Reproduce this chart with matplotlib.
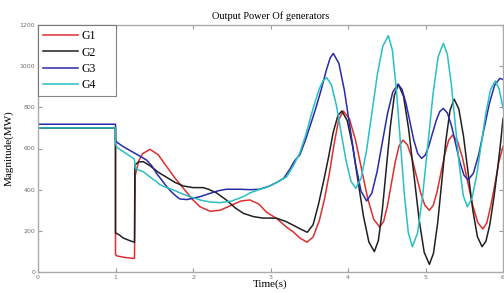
import matplotlib
matplotlib.use("Agg")
import matplotlib.pyplot as plt

# ---------------- data ----------------
t_g1 = [0.0, 1.0, 1.0, 1.02, 1.1, 1.2, 1.245, 1.255, 1.3, 1.35, 1.445, 1.55, 1.66, 1.77, 1.875,
        2.0, 2.09, 2.22, 2.35, 2.5, 2.62, 2.735, 2.85, 2.95, 3.08, 3.2, 3.29, 3.38, 3.47,
        3.55, 3.63, 3.70, 3.76, 3.82, 3.88, 3.94, 4.018, 4.097, 4.175, 4.253, 4.332, 4.41,
        4.46, 4.51, 4.56, 4.61, 4.66, 4.71, 4.767, 4.823, 4.88, 4.937, 4.993, 5.05,
        5.10, 5.15, 5.20, 5.25, 5.30, 5.35, 5.415, 5.48, 5.545, 5.61, 5.675, 5.74,
        5.79, 5.84, 5.895, 5.945, 6.0]
p_g1 = [700, 700, 85, 78, 72, 67, 66, 470, 540, 575, 596, 570, 512, 455, 407,
        350, 317, 295, 300, 325, 345, 350, 330, 290, 260, 220, 196, 165, 145,
        170, 250, 360, 480, 620, 740, 782, 744, 641, 500, 359, 256, 218,
        246, 324, 430, 535, 613, 641, 618, 556, 471, 385, 323, 300,
        324, 391, 483, 574, 641, 665, 634, 551, 437, 323, 240, 209,
        238, 317, 425, 532, 610]

t_g2 = [0.0, 1.0, 1.0, 1.05, 1.1, 1.2, 1.245, 1.25, 1.3, 1.36, 1.45, 1.55, 1.66, 1.77, 1.875,
        2.0, 2.13, 2.2, 2.3, 2.43, 2.55, 2.65, 2.78, 2.9, 3.0, 3.08, 3.2, 3.29, 3.38, 3.475,
        3.55, 3.62, 3.69, 3.75, 3.81, 3.87, 3.92, 3.99, 4.06, 4.13, 4.20, 4.27, 4.34,
        4.392, 4.443, 4.495, 4.547, 4.598, 4.65, 4.717, 4.783, 4.85, 4.917, 4.983, 5.05,
        5.103, 5.157, 5.21, 5.263, 5.317, 5.37, 5.43, 5.49, 5.55, 5.61, 5.67, 5.73,
        5.78, 5.83, 5.88, 5.93, 5.97, 6.0]
p_g2 = [700, 700, 190, 180, 165, 150, 145, 520, 535, 536, 515, 485, 460, 435, 418,
        410, 410, 402, 385, 350, 310, 285, 269, 262, 262, 261, 245, 228, 210, 193,
        230, 330, 450, 560, 680, 760, 782, 736, 611, 441, 270, 145, 99,
        153, 302, 506, 709, 858, 912, 853, 693, 475, 256, 96, 37,
        91, 238, 439, 639, 786, 840, 792, 661, 482, 302, 171, 123,
        150, 230, 355, 500, 630, 745]

t_g3 = [0.0, 1.0, 1.0, 1.02, 1.1, 1.25, 1.4, 1.47, 1.53, 1.6, 1.66, 1.72, 1.79, 1.83, 1.92,
        2.0, 2.09, 2.22, 2.33, 2.43, 2.6, 2.74, 2.86, 2.99, 3.08, 3.17, 3.25, 3.31, 3.38,
        3.45, 3.52, 3.58, 3.65, 3.72, 3.77, 3.81, 3.882, 3.953, 4.025, 4.097, 4.168, 4.24,
        4.3075, 4.375, 4.4425, 4.51, 4.5775, 4.645, 4.696, 4.747, 4.798, 4.848, 4.899, 4.95,
        4.997, 5.043, 5.09, 5.137, 5.183, 5.23, 5.283, 5.337, 5.39, 5.443, 5.497, 5.55,
        5.618, 5.687, 5.755, 5.823, 5.892, 5.96, 6.0]
p_g3 = [718, 718, 640, 630, 609, 577, 544, 515, 479, 445, 415, 390, 366, 355, 352,
        358, 366, 382, 395, 402, 402, 400, 402, 418, 435, 455, 500, 540, 570,
        640, 720, 790, 880, 980, 1040, 1062, 1014, 883, 704, 524, 393, 345,
        383, 487, 629, 770, 874, 912, 888, 822, 732, 642, 576, 552,
        568, 613, 674, 734, 779, 795, 772, 708, 621, 534, 470, 447,
        480, 571, 694, 817, 908, 941, 935]

t_g4 = [0.0, 1.0, 1.0, 1.02, 1.1, 1.23, 1.245, 1.255, 1.3, 1.36, 1.45, 1.53, 1.57, 1.66, 1.75,
        1.86, 1.96, 2.09, 2.22, 2.35, 2.5, 2.65, 2.74, 2.85, 2.95, 3.08, 3.21, 3.3, 3.38,
        3.45, 3.55, 3.63, 3.68, 3.725, 3.7875, 3.85, 3.9125, 3.975, 4.0375, 4.10,
        4.17, 4.24, 4.31, 4.38, 4.45, 4.52, 4.572, 4.623, 4.675, 4.727, 4.778, 4.83,
        4.897, 4.963, 5.03, 5.097, 5.163, 5.23, 5.282, 5.333, 5.385, 5.437, 5.488, 5.54,
        5.60, 5.66, 5.72, 5.78, 5.84, 5.90, 5.95, 6.0]
p_g4 = [700, 700, 625, 605, 585, 552, 548, 505, 495, 487, 460, 439, 425, 410, 398,
        380, 366, 350, 340, 337, 345, 366, 385, 400, 411, 435, 463, 520, 580,
        660, 795, 890, 930, 944, 908, 810, 675, 540, 442, 406,
        456, 592, 777, 963, 1098, 1148, 1079, 892, 636, 379, 192, 123,
        189, 370, 617, 864, 1045, 1111, 1058, 913, 714, 516, 370, 317,
        358, 470, 623, 775, 887, 928, 890, 797]

series_names = ["G1", "G2", "G3", "G4"]
series_colors = ["#dc3030", "#202020", "#2a2aa8", "#28c0c0"]
x_ticks = [0, 1, 2, 3, 4, 5, 6]
y_ticks = [0, 200, 400, 600, 800, 1000, 1200]

# ---------------- figure ----------------
fig = plt.figure(figsize=(5.04, 2.93), dpi=100)
ax = fig.add_axes([38 / 504, 21 / 293, 465 / 504, 247 / 293])

serif = ["Liberation Serif", "DejaVu Serif"]
for t, p, name, c in zip([t_g1, t_g2, t_g3, t_g4], [p_g1, p_g2, p_g3, p_g4],
                         series_names, series_colors):
    ax.plot(t, p, color=c, lw=1.1, label=name)

ax.set_xlim(0, 6)
ax.set_ylim(0, 1200)
ax.set_xticks(x_ticks)
ax.set_yticks(y_ticks)
ax.tick_params(direction="in", length=3, width=0.8, colors="#999999",
               labelcolor="#707070", labelsize=4.5, top=True, right=True, pad=2)
for s in ax.spines.values():
    s.set_color("#aaaaaa")
    s.set_linewidth(1.0)

ax.set_title("Output Power Of generators", fontsize=7.5, family=serif, pad=4)
ax.set_xlabel("Time(s)", fontsize=8, family=serif, labelpad=0)
ax.set_ylabel("Magnitude(MW)", fontsize=8, family=serif, labelpad=4)

leg = ax.legend(loc="upper left", bbox_to_anchor=(0.0, 0.745, 78 / 465, 0.255),
                mode="expand", prop={"family": serif, "size": 8.5},
                frameon=True, fancybox=False, borderaxespad=0.0,
                handlelength=2.9, labelspacing=0.36, borderpad=0.45, handletextpad=0.3)
leg.get_frame().set_edgecolor("#666666")
leg.get_frame().set_linewidth(0.8)

fig.savefig("out.png", dpi=100)
